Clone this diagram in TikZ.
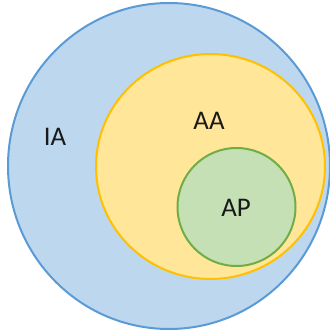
\documentclass[tikz,border=0pt]{standalone}
\usepackage{fontspec}
\setmainfont{Carlito}
\begin{document}
\begin{tikzpicture}[x=1bp,y=-1bp,
  ring/.style={line width=2bp},
  lbl/.style={font=\fontsize{27}{32}\selectfont, text=black!90}]
\definecolor{bluefill}{HTML}{BDD7EE}
\definecolor{blueline}{HTML}{5B9BD5}
\definecolor{yelfill}{HTML}{FFE699}
\definecolor{yelline}{HTML}{FFC000}
\definecolor{grnfill}{HTML}{C5E0B4}
\definecolor{grnline}{HTML}{70AD47}
\useasboundingbox (0,0) rectangle (330,334);
\clip (0,0) rectangle (330,334);
% outer set
\draw[ring, draw=blueline, fill=bluefill] (169,166) ellipse [x radius=161, y radius=163];
% middle set
\draw[ring, draw=yelline, fill=yelfill] (210.5,166.5) ellipse [x radius=114.5, y radius=112.5];
% inner set
\draw[ring, draw=grnline, fill=grnfill] (236.5,207) circle [radius=59];
\node[lbl] (ia) at (55,137) {IA};
\node[lbl] (aa) at (209,121) {AA};
\node[lbl] (ap) at (236,208) {AP};
\end{tikzpicture}
\end{document}
